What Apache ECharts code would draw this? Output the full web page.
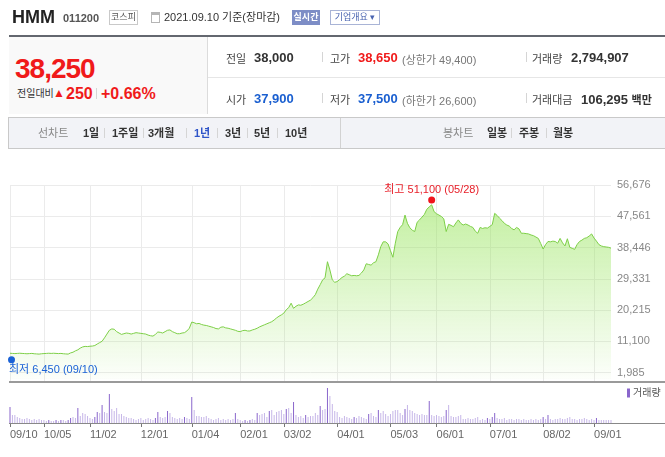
<!DOCTYPE html>
<html>
<head>
<meta charset="utf-8">
<script src="https://cdn.jsdelivr.net/npm/echarts@6/dist/echarts.min.js"></script>
<style>
  body { margin: 0; background: #fff; font-family: 'Liberation Sans', 'Noto Sans CJK KR', sans-serif; }
  #wrap { position: relative; width: 665px; height: 457px; overflow: hidden; }
  #chart { position: absolute; left: 0; top: 0; width: 665px; height: 457px; }
  .t { position: absolute; white-space: nowrap; }
  .bar { position: absolute; background: #d5d5d5; width: 1px; height: 10px; }
  .lbl { font-size: 11px; color: #444; }
  .num { font-size: 13px; font-weight: bold; color: #333; }
  .sub { font-size: 11px; color: #777; }
  .tab { font-size: 11px; font-weight: bold; color: #333; top: 126px; line-height: 14px; }
</style>
</head>
<body>
<div id="wrap">
  <div id="chart"></div>

  <!-- 상단 종목명 -->
  <div class="t" style="left:12px;top:8px;font-size:18px;line-height:18px;font-weight:bold;color:#222">HMM</div>
  <div class="t" style="left:63px;top:12px;font-size:11px;line-height:12px;font-weight:bold;color:#555">011200</div>
  <div class="t" style="left:109px;top:10px;width:27px;height:13px;border:1px solid #c9c9c9;font-size:9px;line-height:13px;text-align:center;color:#555">코스피</div>
  <div class="t" style="left:151px;top:12px;width:7px;height:7px;border:1px solid #b5b5b5;border-top:3px solid #b5b5b5"></div>
  <div class="t" style="left:164px;top:10px;font-size:11px;line-height:14px;color:#333">2021.09.10 기준(장마감)</div>
  <div class="t" style="left:292px;top:10px;width:28px;height:15px;background:#7d8dc6;font-size:9px;line-height:15px;text-align:center;color:#fff;font-weight:bold">실시간</div>
  <div class="t" style="left:330px;top:10px;width:48px;height:13px;border:1px solid #a9b4d6;font-size:9px;line-height:13px;text-align:center;color:#4a64b0">기업개요 ▾</div>
  <div class="t" style="left:9px;top:35px;width:656px;height:2px;background:#63676f"></div>

  <!-- 현재가 -->
  <div class="t" style="left:9px;top:37px;width:198px;height:77px;background:#f9f9f9;border-right:1px solid #dcdcdc"></div>
  <div class="t" style="left:15px;top:55px;font-size:28px;line-height:28px;font-weight:bold;color:#f01a1a;letter-spacing:-1px">38,250</div>
  <div class="t" style="left:17px;top:88px;font-size:10px;line-height:12px;color:#333">전일대비</div>
  <div class="t" style="left:53px;top:87px;font-size:12px;line-height:13px;color:#f01a1a">▲</div>
  <div class="t" style="left:66px;top:86px;font-size:16px;line-height:16px;font-weight:bold;color:#f01a1a">250</div>
  <div class="t" style="left:96px;top:88px;width:1px;height:11px;background:#d5d5d5"></div>
  <div class="t" style="left:101px;top:86px;font-size:16px;line-height:16px;font-weight:bold;color:#f01a1a">+0.66%</div>

  <!-- 시세 표 -->
  <div class="t" style="left:208px;top:77px;width:457px;height:1px;background:#e6e6e6"></div>
  <div class="t lbl" style="left:226px;top:50px">전일</div>
  <div class="t num" style="left:254px;top:50px">38,000</div>
  <div class="bar" style="left:322px;top:52px"></div>
  <div class="t lbl" style="left:330px;top:50px">고가</div>
  <div class="t num" style="left:358px;top:50px;color:#f01a1a">38,650</div>
  <div class="t sub" style="left:402px;top:51px">(상한가 49,400)</div>
  <div class="bar" style="left:526px;top:52px"></div>
  <div class="t lbl" style="left:532px;top:50px">거래량</div>
  <div class="t num" style="left:571px;top:50px">2,794,907</div>

  <div class="t lbl" style="left:226px;top:91px">시가</div>
  <div class="t num" style="left:254px;top:91px;color:#1a5fd0">37,900</div>
  <div class="bar" style="left:322px;top:93px"></div>
  <div class="t lbl" style="left:330px;top:91px">저가</div>
  <div class="t num" style="left:358px;top:91px;color:#1a5fd0">37,500</div>
  <div class="t sub" style="left:402px;top:92px">(하한가 26,600)</div>
  <div class="bar" style="left:526px;top:93px"></div>
  <div class="t lbl" style="left:532px;top:91px">거래대금</div>
  <div class="t num" style="left:581px;top:91px">106,295 <span style="font-size:11px">백만</span></div>

  <!-- 기간 탭 -->
  <div class="t" style="left:8px;top:117px;width:657px;height:30px;background:#f2f3f7;border:1px solid #c9c9c9;border-right:none"></div>
  <div class="t" style="left:340px;top:118px;width:1px;height:30px;background:#d2d2d2"></div>
  <div class="t tab" style="left:38px;font-weight:normal;color:#888">선차트</div>
  <div class="t tab" style="left:83px">1일</div>
  <div class="bar" style="left:104px;top:128px"></div>
  <div class="t tab" style="left:112px">1주일</div>
  <div class="bar" style="left:143px;top:128px"></div>
  <div class="t tab" style="left:148px">3개월</div>
  <div class="bar" style="left:186px;top:128px"></div>
  <div class="t tab" style="left:194px;color:#2f55c8">1년</div>
  <div class="bar" style="left:217px;top:128px"></div>
  <div class="t tab" style="left:225px">3년</div>
  <div class="bar" style="left:247px;top:128px"></div>
  <div class="t tab" style="left:254px">5년</div>
  <div class="bar" style="left:277px;top:128px"></div>
  <div class="t tab" style="left:285px">10년</div>
  <div class="t tab" style="left:443px;font-weight:normal;color:#888">봉차트</div>
  <div class="t tab" style="left:487px">일봉</div>
  <div class="bar" style="left:511px;top:128px"></div>
  <div class="t tab" style="left:519px">주봉</div>
  <div class="bar" style="left:546px;top:128px"></div>
  <div class="t tab" style="left:553px">월봉</div>
</div>

<script>
// x축 눈금 (거래일 순번) 과 라벨
var tickIndex = [0, 14, 33, 54, 75, 95, 113, 135, 157, 176, 198, 220, 241];
var tickLabels = ['09/10', '10/05', '11/02', '12/01', '01/04', '02/01', '03/02', '04/01', '05/03', '06/01', '07/01', '08/02', '09/01'];
// y축 라벨
var yTicks = [1985, 11100, 20215, 29331, 38446, 47561, 56676];

// 종가 (2020.09.10 ~ 2021.09.10, 249 거래일)
var closePrice = [
  7600, 7550, 7500, 7550, 7600, 7550, 7500, 7450, 7500, 7550, 7450, 7400, 7350, 7450, 7500, 7550, 7600, 7550, 7600, 7550, 7500, 7550, 7450, 7400, 7350,
  7700, 7900, 8300, 8600, 9100, 9450, 9600, 9550, 9650, 9700, 9850, 10300, 10700, 11100, 12100, 13200, 14300, 14700, 14600, 13900,
  13500, 13100, 13300, 13500, 13400, 13200, 13400, 13600, 13500, 13400, 13300, 13200, 12900, 12700, 12600, 13100, 13800, 13700, 13500, 13900, 14300, 14400, 13900, 13600, 13300, 13300, 13500, 13600, 14100, 14900,
  16700, 16500, 16200, 16300, 16000, 15800, 15700, 15500, 15300, 15100, 14800, 14700, 15200, 15300, 15000, 14900, 14700, 14500, 14300, 14000, 13900, 14200, 14300, 14100, 14100, 14400,
  14600, 14900, 15300, 15600, 15900, 16200, 16500, 16800, 17300, 17900, 18400, 18800, 19300, 20300, 20900, 22200, 20700, 21300, 21700, 21600, 21900, 22300, 22700, 23100, 23800, 24700, 26300, 27600, 29000, 29600,
  34300, 31900, 29000, 28300, 28500, 29100, 29700, 30100, 30800, 30500,
  30200, 30300, 30200, 30300, 31000, 31900, 33700, 33500, 33300, 34000,
  34300, 36300, 38700, 40100, 40100, 39500, 37500, 35600, 39700, 43100,
  44300, 45100, 47900, 45500, 44200, 43500, 43100, 45800, 46500, 47300,
  48100, 49600, 50300, 50900, 48900, 48300, 47900, 47500, 46800, 43100,
  45200, 44900, 44500, 45600, 46500, 45500, 45000, 45300, 45000, 44600,
  44300, 43200, 42600, 44300, 44000, 44200, 44100, 44600, 45100, 48400,
  47800, 47000, 46300, 45500, 45000, 44700, 44000, 43600, 44300, 43900,
  42600, 42600, 42500, 42400, 42100, 41900, 41500, 41100, 39600, 38000,
  39300, 40200, 40100, 40300, 40200, 39700, 41100, 39800, 38900, 41000,
  38500, 38200, 37900, 39300, 40200, 40600, 41100, 41300, 41800, 42400,
  41200, 40300, 39300, 38900, 38700, 38600, 38500, 38250
];

// 거래량 (백만주, 그림에서 추정)
var volume = [
  16, 8, 8, 6, 5, 4, 4, 5, 4, 3,
  4, 3, 4, 3, 3, 2, 3, 2, 2, 3,
  2, 3, 3, 2, 3, 5, 6, 5, 15, 7,
  10, 9, 7, 5, 4, 6, 11, 10, 18, 11,
  10, 29, 14, 12, 15, 9, 9, 7, 6, 5,
  5, 4, 3, 4, 5, 3, 4, 5, 4, 3,
  5, 11, 6, 5, 6, 12, 10, 6, 5, 4,
  5, 4, 6, 5, 4, 26, 13, 7, 7, 6,
  6, 7, 5, 4, 3, 4, 5, 3, 4, 3,
  4, 3, 4, 10, 4, 3, 2, 3, 2, 3,
  4, 3, 10, 8, 9, 10, 6, 12, 13, 8,
  11, 12, 13, 9, 14, 15, 10, 21, 8, 6,
  7, 5, 8, 6, 7, 7, 10, 8, 17, 13,
  14, 35, 27, 19, 12, 11, 6, 5, 7, 6,
  5, 4, 6, 5, 7, 6, 5, 4, 9, 10,
  7, 6, 13, 10, 12, 9, 7, 9, 12, 13,
  13, 10, 8, 14, 18, 13, 12, 10, 9, 8,
  9, 8, 8, 22, 8, 7, 8, 7, 6, 7,
  13, 18, 7, 6, 6, 7, 8, 4, 4, 5,
  4, 4, 5, 6, 3, 4, 3, 5, 4, 6,
  10, 5, 4, 4, 5, 3, 4, 4, 3, 4,
  4, 3, 4, 3, 3, 4, 3, 4, 3, 4,
  6, 4, 8, 4, 3, 4, 4, 5, 4, 4,
  5, 6, 4, 4, 3, 4, 4, 5, 4, 3,
  4, 3, 5, 3, 3, 3, 3, 3, 3
];

// 최고 / 최저
var maxIdx = 174, maxValue = 51100, maxDate = '05/28';
var minIdx = 0, minValue = 6450, minDate = '09/10';

var days = [];
for (var i = 0; i < closePrice.length; i++) days.push(String(i));

function fmt(v) { return v.toLocaleString('en-US'); }
function isTick(idx) { return tickIndex.indexOf(idx) >= 0; }

// 가격 영역: 눈금 영역(187.5px) 아래로 약간 더 내려감
var priceTop = 185, labelH = 187.5, priceH = 197;
var priceMax = yTicks[yTicks.length - 1];
var priceMin = priceMax - (priceMax - yTicks[0]) * priceH / labelH;

var volDark = '#8a66cc', volLight = '#c6b6e8';

var chart = echarts.init(document.getElementById('chart'));
var option = {
  animation: false,
  textStyle: { fontFamily: "'Liberation Sans', 'Noto Sans CJK KR', sans-serif" },
  grid: [
    { left: 10, width: 601, top: priceTop, height: priceH },
    { left: 10, width: 601, top: priceTop, height: labelH },
    { left: 10, width: 601, top: 383, height: 40 }
  ],
  legend: {
    data: [{ name: '거래량', itemStyle: { color: volDark } }],
    left: 627, top: 388,
    padding: 0,
    itemWidth: 3, itemHeight: 9, itemGap: 0,
    icon: 'rect',
    textStyle: { fontSize: 10, color: '#555', padding: [0, 0, 0, -2] }
  },
  xAxis: [
    {
      gridIndex: 0, type: 'category', data: days, boundaryGap: false,
      axisLine: { show: false }, axisTick: { show: false }, axisLabel: { show: false },
      splitLine: { show: true, interval: function (idx) { return isTick(idx); }, lineStyle: { color: '#ebebeb' } }
    },
    { gridIndex: 1, type: 'category', data: days, boundaryGap: false, show: false },
    {
      gridIndex: 2, type: 'category', data: days, boundaryGap: false,
      axisLine: { show: false },
      axisTick: { show: true, interval: function (idx) { return isTick(idx); }, length: 4, lineStyle: { color: '#777' } },
      axisLabel: {
        interval: function (idx) { return isTick(idx); },
        formatter: function (v, idx) { return tickLabels[tickIndex.indexOf(idx)]; },
        align: 'left', margin: 6, fontSize: 11, color: '#666'
      },
      splitLine: { show: false }
    }
  ],
  yAxis: [
    { gridIndex: 0, type: 'value', min: priceMin, max: priceMax, show: false },
    {
      gridIndex: 1, type: 'value', position: 'right', min: 0, max: yTicks.length - 1, interval: 1,
      axisLine: { show: false }, axisTick: { show: false },
      splitLine: { lineStyle: { color: '#ebebeb' } },
      axisLabel: { margin: 6, fontSize: 11, color: '#888', formatter: function (v) { return fmt(yTicks[v]); } }
    },
    { gridIndex: 2, type: 'value', min: 0, max: 40, show: false }
  ],
  series: [
    {
      type: 'line', xAxisIndex: 0, yAxisIndex: 0,
      data: closePrice,
      symbol: 'none',
      lineStyle: { color: '#7dcf47', width: 1 },
      areaStyle: {
        color: new echarts.graphic.LinearGradient(0, 0, 0, 1, [
          { offset: 0, color: 'rgba(150,228,90,0.8)' },
          { offset: 1, color: 'rgba(150,228,90,0.04)' }
        ])
      },
      markPoint: {
        silent: true,
        symbol: 'circle', symbolSize: 7,
        data: [
          {
            coord: [maxIdx, maxValue], symbolOffset: [0, -4],
            itemStyle: { color: '#f0141c' },
            label: { show: true, position: 'top', distance: 1, fontSize: 11, color: '#e8202a',
              formatter: '최고 ' + fmt(maxValue) + ' (' + maxDate + ')' }
          },
          {
            coord: [minIdx, minValue], symbolOffset: [1.5, 2.5],
            itemStyle: { color: '#1a62d6' },
            label: { show: true, position: [1, 8], align: 'left', verticalAlign: 'top', fontSize: 11, color: '#1a62d6',
              formatter: '최저 ' + fmt(minValue) + ' (' + minDate + ')' }
          }
        ]
      }
    },
    {
      name: '거래량', type: 'bar', xAxisIndex: 2, yAxisIndex: 2,
      data: volume, barWidth: 1,
      color: volDark,
      itemStyle: {
        color: function (p) {
          var prev = p.dataIndex > 0 ? volume[p.dataIndex - 1] : 0;
          return p.value >= prev * 1.5 ? volDark : volLight;
        }
      }
    }
  ],
  graphic: [
    { type: 'line', z: 100, shape: { x1: 9, y1: 382, x2: 665, y2: 382 }, style: { stroke: '#9a9a9a', lineWidth: 2 } },
    { type: 'line', z: 100, shape: { x1: 9, y1: 423.5, x2: 665, y2: 423.5 }, style: { stroke: '#888', lineWidth: 1 } }
  ]
};
chart.setOption(option);
</script>
</body>
</html>
